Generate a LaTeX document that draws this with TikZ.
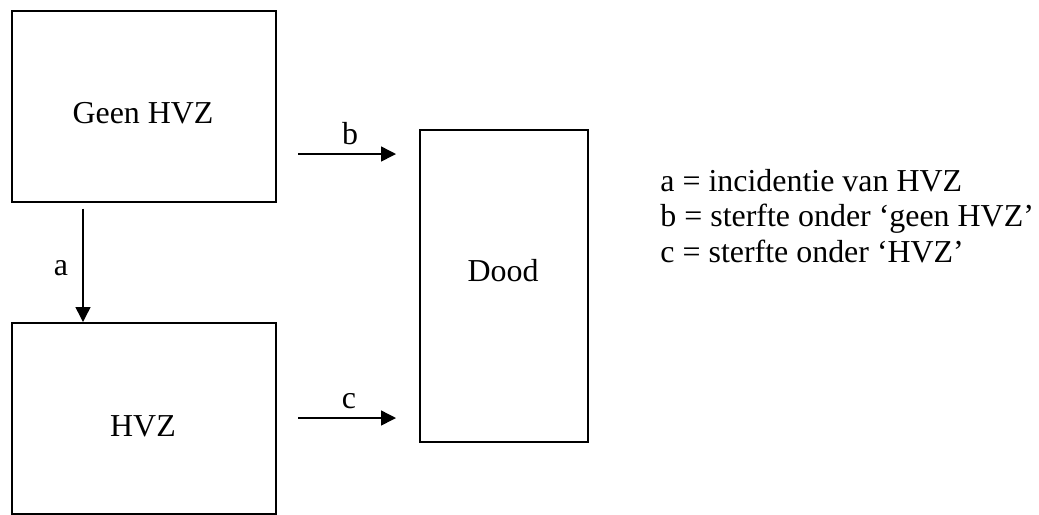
\documentclass[tikz,border=0pt]{standalone}
\usepackage{fontspec}
\setmainfont{Liberation Serif}
\usetikzlibrary{arrows.meta}
\begin{document}
\def\px{0.4386pt}
\begin{tikzpicture}[x=0.4386pt,y=-0.4386pt,
  box/.style={draw,line width=0.7pt,rectangle,inner sep=0pt,anchor=north west},
  txt/.style={inner sep=0pt,anchor=base,font=\fontsize{14}{16}\selectfont},
  legend/.style={inner sep=0pt,anchor=base west,font=\fontsize{14}{16}\selectfont},
  arr/.style={line width=0.65pt,-{Triangle[length=15*\px,width=15*\px]}}]
\useasboundingbox (0,0) rectangle (1039,514);
% boxes
\node[box,minimum width=264*\px,minimum height=191*\px] (geen) at (11,10) {};
\node[box,minimum width=264*\px,minimum height=191*\px] (hvz) at (11,322) {};
\node[box,minimum width=168*\px,minimum height=312*\px] (dood) at (419,129) {};
% box texts
\node[txt] (tgeen) at (143,123.5) {Geen HVZ};
\node[txt] (thvz) at (143,436) {HVZ};
\node[txt] (tdood) at (503,281) {Dood};
% arrows
\coordinate (a1) at ([shift={(72,6)}]geen.south west);
\coordinate (a2) at ([shift={(72,0)}]hvz.north west);
\draw[arr] (a1) -- (a2);
\coordinate (b1) at (298,154);
\coordinate (b2) at (396,154);
\draw[arr] (b1) -- (b2);
\coordinate (c1) at (298,418);
\coordinate (c2) at (396,418);
\draw[arr] (c1) -- (c2);
% arrow labels
\node[txt] (la) at (61,275) {a};
\node[txt] (lb) at (350,144) {b};
\node[txt] (lc) at (349,408) {c};
% legend
\node[legend] (l1) at (660,191) {a = incidentie van HVZ};
\node[legend] (l2) at (660,226.5) {b = sterfte onder ‘geen HVZ’};
\node[legend] (l3) at (660,262) {c = sterfte onder ‘HVZ’};
\end{tikzpicture}
\end{document}
